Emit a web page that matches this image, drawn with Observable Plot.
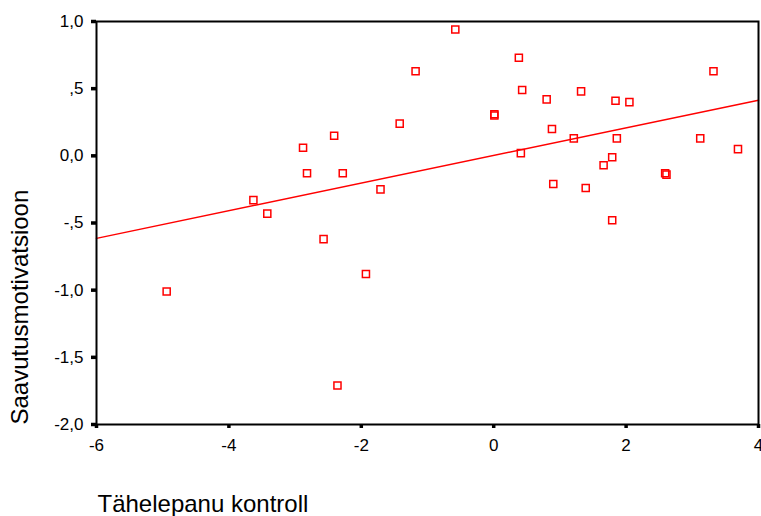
<!DOCTYPE html>
<html><head><meta charset="utf-8">
<script src="https://cdn.jsdelivr.net/npm/d3@7"></script>
<script src="https://cdn.jsdelivr.net/npm/@observablehq/plot@0.6"></script>
<style>body{margin:0;background:#fff;}</style>
</head><body><div id="chart"></div>
<script>
const xValues = [-4.94,-3.63,-3.42,-2.88,-2.82,-2.57,-2.41,-2.36,-2.28,-1.93,-1.71,-1.42,-1.18,-0.58,
  0.01,0.01,0.38,0.41,0.43,0.80,0.88,0.90,1.21,1.32,1.39,1.66,1.79,1.79,1.84,1.86,2.05,2.59,2.61,3.12,3.32,3.69];
const yValues = [-1.01,-0.33,-0.43,0.06,-0.13,-0.62,0.15,-1.71,-0.13,-0.88,-0.25,0.24,0.63,0.94,
  0.31,0.30,0.73,0.02,0.49,0.42,0.20,-0.21,0.13,0.48,-0.24,-0.07,-0.48,-0.01,0.41,0.13,0.40,-0.13,-0.14,0.13,0.63,0.05];
const xDomain = [-6, 4];
const yDomain = [-2, 1];
const xTicks = [-6, -4, -2, 0, 2, 4];
const xTickLabels = ["-6", "-4", "-2", "0", "2", "4"];
const yTicks = [1, 0.5, 0, -0.5, -1, -1.5, -2];
const yTickLabels = ["1,0", ",5", "0,0", "-,5", "-1,0", "-1,5", "-2,0"];
const xTitle = "Tähelepanu kontroll";
const yTitle = "Saavutusmotivatsioon";

const points = xValues.map((x, i) => ({x, y: yValues[i]}));
// least-squares fit line, drawn across the full x domain
const mx = d3.mean(xValues), my = d3.mean(yValues);
const slope = d3.sum(points, p => (p.x - mx) * (p.y - my)) / d3.sum(points, p => (p.x - mx) ** 2);
const intercept = my - slope * mx;
const fitLine = xDomain.map(x => ({x, y: intercept + slope * x}));

const xLab = new Map(xTicks.map((t, i) => [t, xTickLabels[i]]));
const yLab = new Map(yTicks.map((t, i) => [t, yTickLabels[i]]));

const chart = Plot.plot({
  width: 761, height: 516,
  marginLeft: 96, marginRight: 3, marginTop: 21, marginBottom: 92,
  style: {fontFamily: "'Liberation Sans', Arial, sans-serif", fontSize: "17px", color: "black", background: "white"},
  x: {domain: xDomain},
  y: {domain: yDomain},
  marks: [
    Plot.axisX({ticks: xTicks, tickFormat: d => xLab.get(d), tickSize: 4, strokeWidth: 3.5, tickPadding: 10, fontSize: 17, label: null}),
    Plot.axisY({ticks: yTicks, tickFormat: d => yLab.get(d), tickSize: 5, strokeWidth: 3.5, tickPadding: 8, fontSize: 17, label: null}),
    Plot.line(fitLine, {x: "x", y: "y", stroke: "#ff0000", strokeWidth: 1.5}),
    Plot.dot(points, {x: "x", y: "y", symbol: "square", r: 4, stroke: "#ff0000", strokeWidth: 1.5, fill: "none"}),
    Plot.frame({stroke: "black", strokeWidth: 2}),
    Plot.text([xTitle], {text: d => d, frameAnchor: "bottom-left", textAnchor: "start", dx: 1, dy: 87, fontSize: 24, lineAnchor: "bottom", fill: "black"}),
    Plot.text([yTitle], {text: d => d, frameAnchor: "bottom-left", textAnchor: "start", rotate: -90, dx: -76, dy: 0, fontSize: 24, lineAnchor: "middle", fill: "black"})
  ]
});
document.getElementById("chart").append(chart);
</script>
</body></html>
